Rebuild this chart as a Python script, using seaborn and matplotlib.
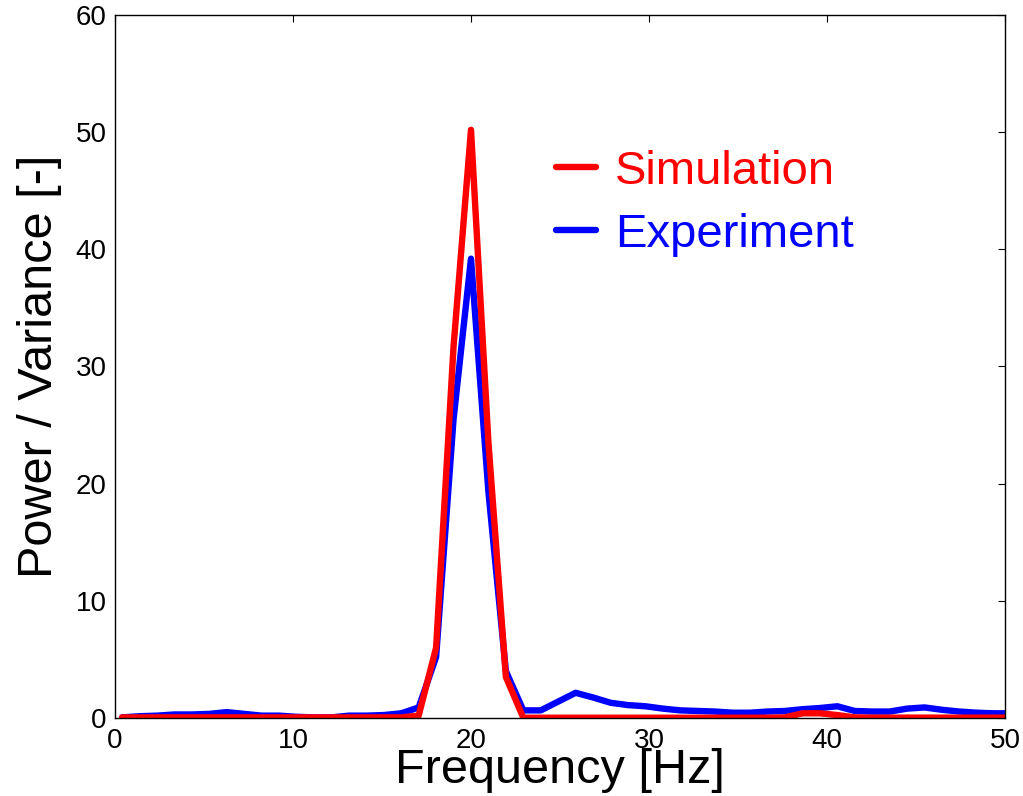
import numpy as np
import pandas as pd
import matplotlib
matplotlib.use("Agg")
import matplotlib.pyplot as plt
import seaborn as sns

# spectrum bins
freq = [0.40, 1.38, 2.36, 3.34, 4.32, 5.30, 6.28, 7.26, 8.24, 9.22,
        10.20, 11.18, 12.16, 13.14, 14.12, 15.10, 16.08, 17.06, 18.04, 19.02,
        20.00, 20.98, 21.96, 22.94, 23.92, 24.90, 25.88, 26.86, 27.84, 28.82,
        29.80, 30.78, 31.76, 32.74, 33.72, 34.70, 35.68, 36.66, 37.64, 38.62,
        39.60, 40.58, 41.56, 42.54, 43.52, 44.50, 45.48, 46.46, 47.44, 48.42,
        49.40, 50.38]

experiment = [0.05, 0.15, 0.2, 0.3, 0.3, 0.35, 0.5, 0.35, 0.2, 0.2,
              0.1, 0.05, 0.05, 0.2, 0.2, 0.25, 0.4, 0.9, 5.2, 25.5,
              39.2, 19.3, 4.0, 0.65, 0.65, 1.4, 2.15, 1.75, 1.3, 1.1,
              1.0, 0.8, 0.65, 0.6, 0.55, 0.45, 0.45, 0.55, 0.6, 0.75,
              0.85, 1.0, 0.6, 0.55, 0.55, 0.8, 0.9, 0.7, 0.55, 0.45,
              0.4, 0.4]

simulation = [0.05, 0.05, 0.05, 0.05, 0.05, 0.05, 0.05, 0.05, 0.05, 0.05,
              0.05, 0.05, 0.05, 0.05, 0.05, 0.05, 0.05, 0.2, 6.0, 31.7,
              50.2, 23.5, 3.5, 0.02, 0.02, 0.02, 0.02, 0.02, 0.02, 0.02,
              0.02, 0.02, 0.02, 0.02, 0.02, 0.02, 0.02, 0.02, 0.05, 0.4,
              0.4, 0.25, 0.05, 0.03, 0.03, 0.03, 0.03, 0.03, 0.03, 0.03,
              0.03, 0.03]

xticks = [0, 10, 20, 30, 40, 50]
yticks = [0, 10, 20, 30, 40, 50, 60]

df = pd.DataFrame({"freq": freq, "Experiment": experiment, "Simulation": simulation})

sns.set_style("white")
plt.rcParams["font.family"] = ["Liberation Sans", "DejaVu Sans"]
plt.rcParams["text.color"] = "black"
plt.rcParams["axes.labelcolor"] = "black"

fig = plt.figure(figsize=(10.23, 7.96), dpi=100)
ax = fig.add_axes([0.1124, 0.098, 0.8700, 0.8832])

# experiment first so simulation sits on top
sns.lineplot(data=df, x="freq", y="Experiment", color="#0000ff", lw=4.6,
             ax=ax, label="Experiment", sort=False)
sns.lineplot(data=df, x="freq", y="Simulation", color="#ff0000", lw=4.6,
             ax=ax, label="Simulation", sort=False)

ax.set_xlim(0, 50)
ax.set_ylim(0, 60)
ax.set_xticks(xticks)
ax.set_yticks(yticks)
ax.tick_params(direction="in", top=True, right=True, length=5, width=0.8,
               labelsize=20, colors="black")
ax.tick_params(axis="x", pad=7)
ax.tick_params(axis="y", pad=6)
for s in ax.spines.values():
    s.set_color("black")
    s.set_linewidth(1.0)

ax.set_xlabel("Frequency [Hz]", fontsize=35, color="black")
ax.set_ylabel("Power / Variance [-]", fontsize=35, color="black")
ax.xaxis.set_label_coords(0.5, -0.042)
ax.yaxis.set_label_coords(-0.06, 0.5)

h, l = ax.get_legend_handles_labels()
ax.legend(h[::-1], l[::-1], loc="upper left", bbox_to_anchor=(0.469, 0.842),
          frameon=False, fontsize=34, handlelength=0.85, handletextpad=0.4,
          labelspacing=0.4, labelcolor="linecolor", borderpad=0)

fig.savefig("out.png", dpi=100)
